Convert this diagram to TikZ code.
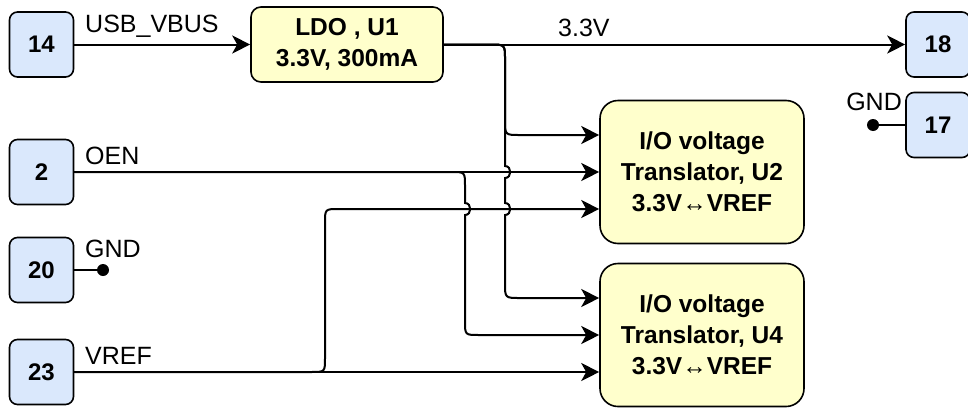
\documentclass[tikz,border=0pt]{standalone}
\usepackage{fontspec}
\setmainfont{Liberation Sans}
\usetikzlibrary{arrows.meta}

\definecolor{pinblue}{HTML}{DAE8FC}
\definecolor{chipyellow}{HTML}{FFFFCC}

\begin{document}
\begin{tikzpicture}[x=1pt,y=-1pt,
  padbox/.style={draw,line width=1.6pt,fill=pinblue,rounded corners=8pt,minimum width=64pt,minimum height=65pt,font=\fontsize{24}{28}\selectfont\bfseries},
  chipbox/.style={draw,line width=1.6pt,fill=chipyellow,rounded corners=18pt,minimum width=204pt,minimum height=143pt,align=center,font=\fontsize{24.5}{31}\selectfont\bfseries},
  lbl/.style={inner sep=0pt,font=\fontsize{25}{28}\selectfont},
  wire/.style={line width=2pt,-{Stealth[length=18pt,width=18pt,inset=5pt]}},
  gnddot/.style={circle,fill,inner sep=0pt,minimum size=12pt}]
  \useasboundingbox (0,0) rectangle (968,407);

  % Pins on the left
  \node[padbox] (p14) at (41.5,44.5) {14};
  \node[padbox] (p2) at (41.5,172) {2};
  \node[padbox] (p20) at (41.5,270) {20};
  \node[padbox] (p23) at (41.5,372) {23};
  % Pins on the right
  \node[padbox] (p18) at (938,44.5) {18};
  \node[padbox] (p17) at (938,125) {17};

  % Regulator and translators
  \node[chipbox,minimum width=192pt,minimum height=75pt,rounded corners=10pt] (ldo) at (347,44.5) {LDO , U1\\3.3V, 300mA};
  \node[chipbox] (u2) at (702,172) {I/O voltage\\Translator, U2\\3.3V↔VREF};
  \node[chipbox] (u4) at (702,335) {I/O voltage\\Translator, U4\\3.3V↔VREF};

  % Net names
  \node[lbl,anchor=base west] (usb) at (85,32) {USB\_VBUS};
  \node[lbl,anchor=base west] (v33) at (558,36) {3.3V};
  \node[lbl,anchor=base west] (oen) at (85,164) {OEN};
  \node[lbl,anchor=base west] (gnda) at (85,257) {GND};
  \node[lbl,anchor=base west] (vref) at (85,364) {VREF};
  \node[lbl,anchor=base east] (gndb) at (902,110) {GND};

  % Supply
  \draw[wire] (p14.east) -- (ldo.west);
  \draw[wire] (ldo.east) -- (p18.west);
  \draw[wire] (ldo.east) -- (490,44.5) .. controls (505,44.5) .. (505,59.5) -- (505,120) .. controls (505,135) .. (520,135) -- ([yshift=37pt]u2.west);
  \draw[wire] (ldo.east) -- (490,44.5) .. controls (505,44.5) .. (505,59.5) -- (505,166) .. controls +(7,0) and +(7,0) .. (505,178) -- (505,203) .. controls +(7,0) and +(7,0) .. (505,215) -- (505,283) .. controls (505,298) .. (520,298) -- ([yshift=37pt]u4.west);

  % Output enable
  \draw[wire] (p2.east) -- (u2.west);
  \draw[wire] (p2.east) -- (451,172) .. controls (465,172) .. (465,186) -- (465,203) .. controls +(7,0) and +(7,0) .. (465,215) -- (465,321) .. controls (465,335) .. (479,335) -- (u4.west);

  % Reference voltage
  \draw[wire] (p23.east) -- ([yshift=-37pt]u4.west);
  \draw[wire] (p23.east) -- (311,372) .. controls (325,372) .. (325,358) -- (325,223) .. controls (325,209) .. (339,209) -- ([yshift=-37pt]u2.west);

  % Ground pins
  \node[gnddot] (d20) at (103,270) {};
  \node[gnddot] (d17) at (873,125) {};
  \draw[line width=2pt] (p20.east) -- (d20);
  \draw[line width=2pt] (d17) -- (p17.west);
\end{tikzpicture}
\end{document}
